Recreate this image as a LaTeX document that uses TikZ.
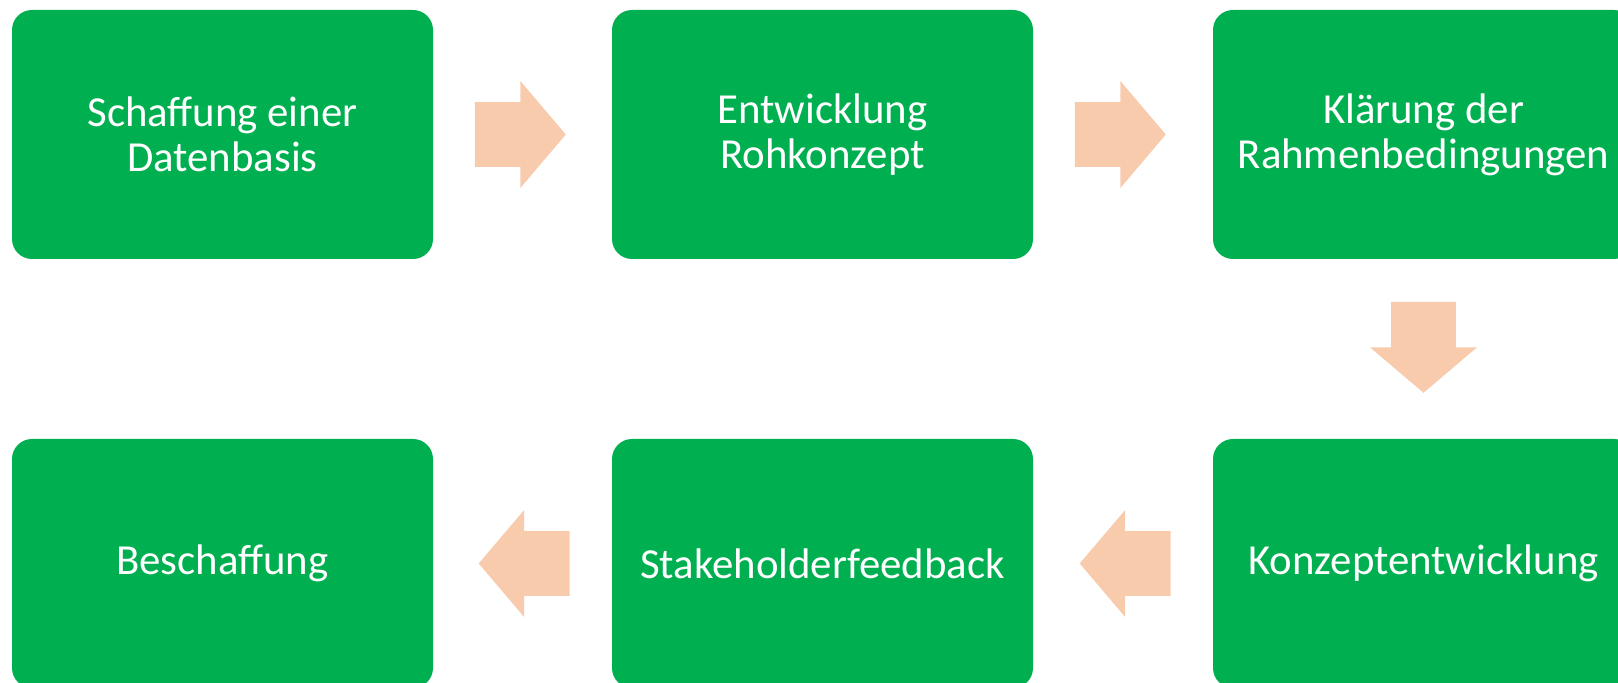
\documentclass[tikz,border=0pt]{standalone}
\usepackage{fontspec}
\setmainfont{Carlito}
\usepackage{xcolor}
\usetikzlibrary{calc, shapes.arrows}
\definecolor{stepgreen}{HTML}{00B050}
\definecolor{arrowpeach}{HTML}{F8CBAD}

\begin{document}
\begin{tikzpicture}[x=0.5pt, y=-0.5pt]
		\tikzset{stepbox/.style = {shape=rectangle, rounded corners=10pt, fill=stepgreen, text=white, minimum width=210.5pt, minimum height=124.5pt, align=center, font=\fontsize{21.4pt}{22.6pt}\selectfont}}
		\tikzset{blockarrow/.style = {single arrow, fill=arrowpeach, anchor=tail, inner sep=0pt, minimum height=45.5pt, single arrow head extend=10.5pt, single arrow tip angle=99.3}}
		\tikzset{harrow/.style = {blockarrow, inner ysep=16pt, shape border rotate=#1}}
		\tikzset{varrow/.style = {blockarrow, inner xsep=16pt, shape border rotate=#1}}

		\useasboundingbox (0,0) rectangle (1618,683);
		\clip (0,0) rectangle (1618,683);

		\node[stepbox] (A) at (222.5,134.5) {Schaffung einer\\Datenbasis};
		\node[stepbox] (B) at (822.5,134.5) {Entwicklung\\Rohkonzept};
		\node[stepbox] (C) at (1423.5,134.5) {Klärung der\\Rahmenbedingungen};
		\node[stepbox] (D) at (1423.5,563.5) {Konzeptentwicklung};
		\node[stepbox] (E) at (822.5,563.5) {Stakeholderfeedback};
		\node[stepbox] (F) at (222.5,563.5) {Beschaffung};

		\node[harrow=0] (a1) at ($(A.east)+(41,0)$) {};
		\node[harrow=0] (a2) at ($(B.east)+(41,0)$) {};
		\node[varrow=270] (a3) at ($(C.south)+(0,42)$) {};
		\node[harrow=180] (a4) at ($(D.west)+(-41.5,0)$) {};
		\node[harrow=180] (a5) at ($(E.west)+(-41.5,0)$) {};

	\end{tikzpicture}
\end{document}
